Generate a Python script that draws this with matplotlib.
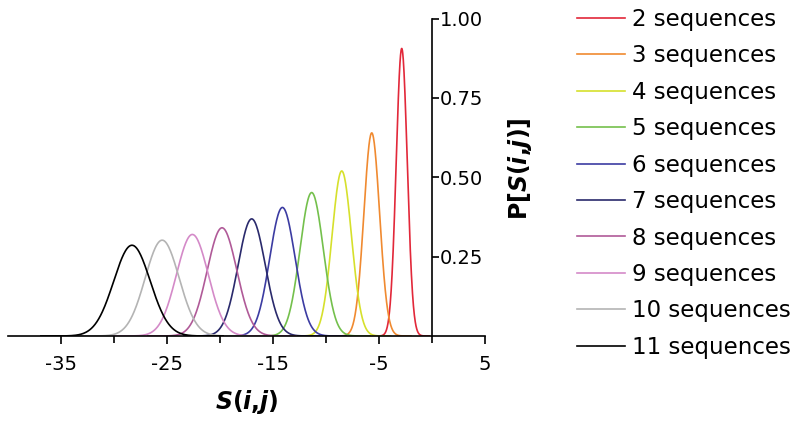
import numpy as np
import matplotlib
matplotlib.use('Agg')
import matplotlib.pyplot as plt

plt.rcParams['font.family'] = 'DejaVu Sans'
plt.rcParams['mathtext.fontset'] = 'dejavusans'
plt.rcParams['axes.unicode_minus'] = False

# values
n_seq = [2, 3, 4, 5, 6, 7, 8, 9, 10, 11]
peak_pos = [-2.84, -5.67, -8.5, -11.34, -14.1, -17.0, -19.8, -22.6, -25.45, -28.3]
peak_height = [0.906, 0.64, 0.52, 0.452, 0.405, 0.369, 0.341, 0.32, 0.302, 0.286]
spread = [0.52, 0.74, 0.92, 1.1, 1.2, 1.28, 1.4, 1.5, 1.6, 1.72]
colors = ['#e2283a', '#f08a30', '#d6e02c', '#74c04c', '#3c3ca2',
          '#2a2a6c', '#b05a98', '#d48ac8', '#b4b4b4', '#000000']

fig = plt.figure(figsize=(8, 4.22), dpi=100)
ax = fig.add_axes([0.01, 0.2038, 0.596, 0.752])

for n, mu, h, s, c in zip(n_seq, peak_pos, peak_height, spread, colors):
    x = np.linspace(mu - 5 * s, mu + 5 * s, 300)
    y = h * np.exp(-0.5 * ((x - mu) / s) ** 2)
    ax.plot(x, y, color=c, lw=1.2, label='%d sequences' % n)

ax.set_xlim(-40, 5)
ax.set_ylim(0, 1)

ax.spines['top'].set_visible(False)
ax.spines['left'].set_visible(False)
ax.spines['right'].set_position(('data', 0))
ax.spines['bottom'].set_linewidth(1.2)
ax.spines['right'].set_linewidth(1.2)

ax.set_xticks([-35, -25, -15, -5, 5])
ax.set_xticks([-30, -20, -10, 0], minor=True)
ax.tick_params(axis='x', which='major', length=6, width=1.2, labelsize=14, pad=8)
ax.tick_params(axis='x', which='minor', length=5, width=1.2)

ax.yaxis.tick_right()
ax.set_yticks([0.25, 0.5, 0.75, 1.0])
ax.set_yticklabels(['0.25', '0.50', '0.75', '1.00'])
ax.tick_params(axis='y', length=5, width=1.2, labelsize=14, pad=1)

ax.set_xlabel(r'$\mathbfit{S}\mathbf{(}\mathbfit{i}\mathbf{,}\mathbfit{j}\mathbf{)}$',
              fontsize=17, labelpad=10)
fig.text(0.65, 0.5995, r'$\mathbf{P[}\mathbfit{S}\mathbf{(}\mathbfit{i}\mathbf{,}\mathbfit{j}\mathbf{)]}$',
         fontsize=17, rotation=90, ha='center', va='center')

fig.legend(loc='upper left', bbox_to_anchor=(0.707, 1.008), frameon=False,
           fontsize=16.5, handlelength=2.1, handletextpad=0.3,
           labelspacing=0.585, borderpad=0.0)

plt.savefig('out.png', dpi=100)
